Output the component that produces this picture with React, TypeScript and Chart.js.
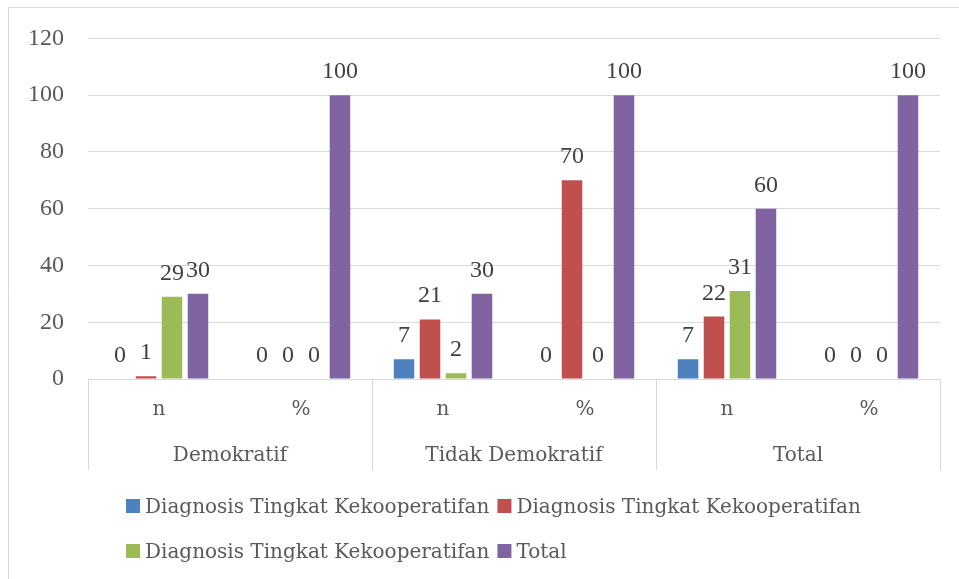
import React, { useEffect, useRef } from "react";
import { Chart, registerables } from "chart.js";

Chart.register(...registerables);

const categories = ["n", "%", "n", "%", "n", "%"];
const groups = ["Demokratif", "Tidak Demokratif", "Total"];
const seriesNames = [
  "Diagnosis Tingkat Kekooperatifan",
  "Diagnosis Tingkat Kekooperatifan",
  "Diagnosis Tingkat Kekooperatifan",
  "Total",
];
const series1 = [0, 0, 7, 0, 7, 0];
const series2 = [1, 0, 21, 70, 22, 0];
const series3 = [29, 0, 2, 0, 31, 0];
const seriesTotal = [30, 100, 30, 100, 60, 100];
const colors = ["#4F81BD", "#C0504D", "#9BBB59", "#8064A2"];
const yMin = 0;
const yMax = 120;
const yStep = 20;

const NUM_FONT = "'Liberation Serif', 'DejaVu Serif', serif";
const TEXT_FONT = "'DejaVu Serif', 'Liberation Serif', serif";
const AXIS_COLOR = "#595959";
const LABEL_COLOR = "#404040";
const GRID = "#d9d9d9";

const framePlugin = {
  id: "frame",
  beforeDraw(chart: any) {
    const ctx = chart.ctx;
    ctx.save();
    ctx.fillStyle = "#ffffff";
    ctx.fillRect(0, 0, chart.width, chart.height);
    ctx.strokeStyle = GRID;
    ctx.lineWidth = 1;
    ctx.beginPath();
    ctx.moveTo(8.5, chart.height);
    ctx.lineTo(8.5, 7.5);
    ctx.lineTo(chart.width, 7.5);
    ctx.stroke();
    ctx.restore();
  },
};

const extrasPlugin = {
  id: "extras",
  afterDraw(chart: any) {
    const ctx = chart.ctx;
    const x = chart.scales.x;
    const x2 = chart.scales.x2;
    const area = chart.chartArea;
    ctx.save();
    // group separators
    const w = x.getPixelForValue(1) - x.getPixelForValue(0);
    ctx.strokeStyle = GRID;
    ctx.lineWidth = 1;
    for (let g = 0; g <= groups.length; g++) {
      const px = Math.round(x.getPixelForValue(g * 2) - w / 2) + 0.5;
      ctx.beginPath();
      ctx.moveTo(px, area.bottom);
      ctx.lineTo(px, x2.bottom);
      ctx.stroke();
    }
    // data labels
    ctx.font = `24px ${NUM_FONT}`;
    ctx.fillStyle = LABEL_COLOR;
    ctx.textAlign = "center";
    ctx.textBaseline = "alphabetic";
    chart.data.datasets.forEach((ds: any, i: number) => {
      const meta = chart.getDatasetMeta(i);
      meta.data.forEach((el: any, j: number) => {
        ctx.fillText(String(ds.data[j]), el.x, el.y - 17);
      });
    });
    // legend
    ctx.font = `20px ${TEXT_FONT}`;
    ctx.textAlign = "left";
    ctx.fillStyle = AXIS_COLOR;
    const box = 14;
    const gap = 5;
    const colGap = 8;
    const rows = [[0, 1], [2, 3]];
    const colW = [0, 0];
    rows.forEach((r) =>
      r.forEach((idx, c) => {
        const tw = ctx.measureText(seriesNames[idx]).width;
        colW[c] = Math.max(colW[c], box + gap + tw);
      })
    );
    const total = colW[0] + colGap + colW[1];
    const startX = Math.round(493 - total / 2);
    const baselines = [513, 558];
    rows.forEach((r, ri) => {
      let cx = startX;
      r.forEach((idx, c) => {
        const bl = baselines[ri];
        ctx.fillStyle = colors[idx];
        ctx.fillRect(cx, bl - 14, box, box);
        ctx.fillStyle = AXIS_COLOR;
        ctx.fillText(seriesNames[idx], cx + box + gap, bl);
        cx += colW[c] + colGap;
      });
    });
    ctx.restore();
  },
};

export default function App() {
  const ref = useRef<HTMLCanvasElement | null>(null);
  useEffect(() => {
    if (!ref.current) return;
    const data = [series1, series2, series3, seriesTotal];
    const chart = new Chart(ref.current, {
      type: "bar",
      data: {
        labels: categories,
        datasets: data.map((d, i) => ({
          label: seriesNames[i],
          data: d,
          backgroundColor: colors[i],
          borderWidth: 0,
          categoryPercentage: 0.732,
          barPercentage: 0.79,
        })),
      },
      options: {
        responsive: false,
        animation: false,
        layout: { padding: { top: 37, right: 19, bottom: 109, left: 0 } },
        plugins: {
          legend: { display: false },
          tooltip: { enabled: false },
        },
        scales: {
          x: {
            type: "category",
            position: "bottom",
            grid: { display: false, drawTicks: false },
            border: { display: false },
            ticks: {
              color: AXIS_COLOR,
              font: { family: TEXT_FONT, size: 20 },
              padding: 19,
              maxRotation: 0,
              autoSkip: false,
            },
            afterFit: (s: any) => {
              s.height = 39;
            },
          },
          x2: {
            type: "category",
            position: "bottom",
            labels: groups,
            offset: true,
            grid: { display: false, drawTicks: false },
            border: { display: false },
            ticks: {
              color: AXIS_COLOR,
              font: { family: TEXT_FONT, size: 20 },
              padding: 26,
              maxRotation: 0,
              autoSkip: false,
            },
            afterFit: (s: any) => {
              s.height = 52;
            },
          },
          y: {
            min: yMin,
            max: yMax,
            ticks: {
              stepSize: yStep,
              color: AXIS_COLOR,
              font: { family: NUM_FONT, size: 24 },
              padding: 24,
            },
            grid: { color: GRID, lineWidth: 1, drawTicks: false },
            border: { display: false },
            afterFit: (s: any) => {
              s.width = 88;
            },
          },
        },
      },
      plugins: [framePlugin, extrasPlugin],
    });
    return () => chart.destroy();
  }, []);
  return (
    <div style={{ position: "absolute", left: 0, top: 0, width: 959, height: 579 }}>
      <canvas ref={ref} width={959} height={579} style={{ display: "block" }} />
    </div>
  );
}
